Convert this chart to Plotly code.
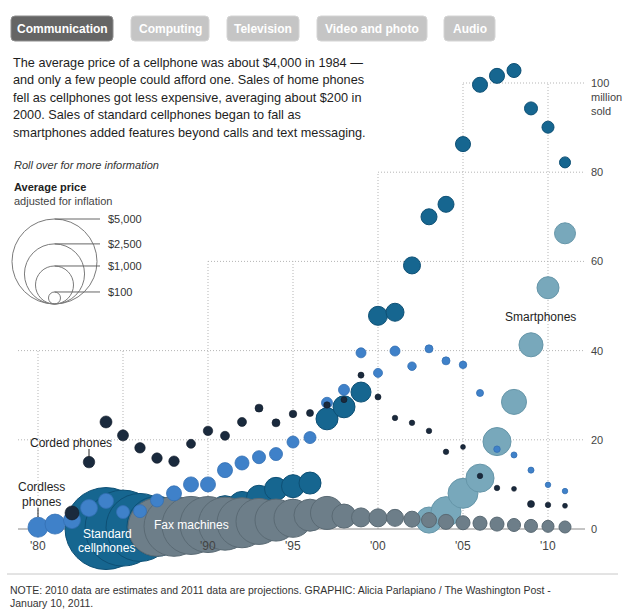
import plotly.graph_objects as go
import math

# ---------------- data (millions of units sold, average price in $) ----------------
corded_years = list(range(1982, 2012))
corded_units = [3.6, 15.0, 24.0, 21.0, 18.2, 15.9, 15.2, 19.1, 22.0, 20.9, 24.0, 27.1, 23.8, 25.8, 26.0,
                27.8, 29.0, 34.5, 29.6, 24.9, 23.8, 22.0, 17.3, 18.4, 11.9, 9.2, 9.0, 5.6, 5.4, 5.2]
corded_price = [136, 92, 100, 84, 76, 76, 76, 56, 62, 56, 56, 44, 44, 39, 34,
                29, 25, 25, 25, 21, 21, 21, 21, 17, 21, 21, 17, 34, 21, 17]

cordless_years = list(range(1980, 2012))
cordless_units = [0.4, 1.1, 2.0, 4.7, 6.3, 3.8, 4.0, 6.4, 8.0, 10.0, 10.0, 13.2, 14.8, 16.1, 16.8, 19.5,
                  20.5, 28.3, 31.2, 39.5, 35.0, 39.9, 36.5, 40.4, 37.7, 36.8, 30.5, 17.9, 16.6, 13.2, 9.9, 8.5]
cordless_price = [277, 277, 200, 200, 156, 117, 117, 117, 156, 156, 156, 156, 136, 117, 117, 100,
                  100, 84, 84, 69, 56, 69, 50, 44, 44, 39, 34, 29, 25, 25, 21, 21]

cell_years = list(range(1984, 2012))
cell_units = [0.1, 0.2, 0.35, 0.6, 1.0, 1.6, 2.8, 4.0, 5.4, 7.0, 9.0, 9.6, 10.3, 24.7,
              27.4, 30.7, 47.8, 48.6, 59.1, 70.0, 72.8, 86.3, 99.6, 101.6, 102.8, 94.3, 90.1, 82.2]
cell_price = [4650, 4000, 3200, 2490, 1870, 1340, 900, 665, 505, 433, 366, 366, 335, 335,
              335, 277, 250, 224, 200, 177, 177, 156, 156, 156, 136, 117, 100, 84]

fax_years = list(range(1987, 2012))
fax_units = [0.4, 0.6, 0.8, 1.0, 1.2, 1.4, 1.7, 2.0, 2.4, 3.1, 3.6, 2.9, 2.6, 2.5, 2.5,
             2.2, 2.0, 1.6, 1.4, 1.3, 1.1, 0.9, 0.7, 0.6, 0.45]
fax_price = [2330, 2490, 2330, 2170, 1945, 1730, 1465, 1220, 1000, 710, 755, 400, 250, 224, 200,
             177, 156, 156, 136, 136, 136, 117, 117, 100, 100]

smart_years = list(range(2003, 2012))
smart_units = [2.0, 3.9, 8.0, 11.4, 19.6, 28.5, 41.3, 54.1, 66.3]
smart_price = [470, 620, 620, 545, 545, 433, 400, 335, 305]

legend_prices = [5000, 2500, 1000, 100]
legend_labels = ["$5,000", "$2,500", "$1,000", "$100"]

y_ticks = [0, 20, 40, 60, 80, 100]
x_ticks = [1980, 1990, 1995, 2000, 2005, 2010]
x_tick_text = ["'80", "'90", "'95", "'00", "'05", "'10"]

buttons = ["Communication", "Computing", "Television", "Video and photo", "Audio"]

intro = ["The average price of a cellphone was about $4,000 in 1984 \u2014",
         "and only a few people could afford one. Sales of home phones",
         "fell as cellphones got less expensive, averaging about $200 in",
         "2000. Sales of standard cellphones began to fall as",
         "smartphones added features beyond calls and text messaging."]
note = ["NOTE: 2010 data are estimates and 2011 data are projections. GRAPHIC: Alicia Parlapiano / The Washington Post -",
        "January 10, 2011."]

# ---------------- layout helpers ----------------
W, H = 628, 615
FONT = "Arial, Liberation Sans, Helvetica, sans-serif"
MAXD, MAXP = 85.0, 5000.0


def diam(prices):
    return [MAXD * math.sqrt(p / MAXP) for p in prices]


def PX(x):
    return x / W


def PY(y):
    return 1 - y / H


X0 = 1980 - 38 / 17.0
X1 = 1980 + (W - 38) / 17.0
Y0 = -(H - 529) / 4.46
Y1 = 529 / 4.46
GX_LEFT = 1980 + (18 - 38) / 17.0
GX_RIGHT = 1980 + (585 - 38) / 17.0

fig = go.Figure()

series = [
    (smart_years, smart_units, smart_price, "#78a8bb", "#6696a9", 1.0, "Smartphones"),
    (cell_years, cell_units, cell_price, "#166690", "#0e5075", 1.0, "Standard cellphones"),
    (fax_years, fax_units, fax_price, "#6d7e89", "#5a6a74", 1.0, "Fax machines"),
    (cordless_years, cordless_units, cordless_price, "#3f81c9", "#3470b4", 0.8, "Cordless phones"),
    (corded_years, corded_units, corded_price, "#1a2a3d", "#101b2a", 0.6, "Corded phones"),
]
for xs, ys, ps, col, lc, lw, name in series:
    fig.add_trace(go.Scatter(
        x=xs, y=ys, mode="markers", name=name,
        marker=dict(size=diam(ps), sizemode="diameter", color=col, opacity=1,
                    line=dict(color=lc, width=lw)),
        cliponaxis=False, hoverinfo="x+y+name"))

shapes = []
grid = dict(color="#b5b5b5", width=1, dash="1px,2px")
vert_top = {1980: 40, 1985: 40, 1990: 60, 1995: 60, 2000: 80, 2005: 100, 2010: 100}
horiz_left = {20: GX_LEFT, 40: GX_LEFT, 60: 1990, 80: 2000, 100: 2005}
for yr, top in vert_top.items():
    shapes.append(dict(type="line", xref="x", yref="y", x0=yr, x1=yr, y0=0, y1=top, line=grid, layer="below"))
for v, xl in horiz_left.items():
    shapes.append(dict(type="line", xref="x", yref="y", x0=xl, x1=GX_RIGHT, y0=v, y1=v, line=grid, layer="below"))
shapes.append(dict(type="line", xref="x", yref="y", x0=GX_LEFT, x1=GX_RIGHT, y0=0, y1=0,
                   line=dict(color="#8a8a8a", width=1), layer="below"))


def rr(x0, y0, x1, y1, r):
    return (f"M{PX(x0+r)},{PY(y0)} L{PX(x1-r)},{PY(y0)} Q{PX(x1)},{PY(y0)} {PX(x1)},{PY(y0+r)} "
            f"L{PX(x1)},{PY(y1-r)} Q{PX(x1)},{PY(y1)} {PX(x1-r)},{PY(y1)} "
            f"L{PX(x0+r)},{PY(y1)} Q{PX(x0)},{PY(y1)} {PX(x0)},{PY(y1-r)} "
            f"L{PX(x0)},{PY(y0+r)} Q{PX(x0)},{PY(y0)} {PX(x0+r)},{PY(y0)} Z")


annotations = []
btn_boxes = [(11, 113), (131, 209), (227, 299), (317, 427), (444, 495)]
for i, (label, (bx0, bx1)) in enumerate(zip(buttons, btn_boxes)):
    active = i == 0
    shapes.append(dict(type="path", xref="paper", yref="paper", path=rr(bx0, 16, bx1, 41, 4),
                       fillcolor="#656565" if active else "#c5c5c5",
                       line=dict(color="#8e8e8e" if active else "#d4d4d4", width=1), layer="above"))
    annotations.append(dict(x=PX((bx0 + bx1) / 2), y=PY(28.5), xref="paper", yref="paper",
                            text=f"<b>{label}</b>", showarrow=False, xanchor="center", yanchor="middle",
                            font=dict(family=FONT, size=12, color="white")))

for i, line in enumerate(intro):
    annotations.append(dict(x=PX(11), y=PY(63 + i * 17.5), xref="paper", yref="paper", text=line,
                            showarrow=False, xanchor="left", yanchor="middle",
                            font=dict(family=FONT, size=12.7, color="#1e1e1e")))

annotations.append(dict(x=PX(12), y=PY(165), xref="paper", yref="paper", text="<i>Roll over for more information</i>",
                        showarrow=False, xanchor="left", yanchor="middle", font=dict(family=FONT, size=11, color="#333")))
annotations.append(dict(x=PX(12), y=PY(187), xref="paper", yref="paper", text="<b>Average price</b>",
                        showarrow=False, xanchor="left", yanchor="middle", font=dict(family=FONT, size=11, color="#222")))
annotations.append(dict(x=PX(12), y=PY(201), xref="paper", yref="paper", text="adjusted for inflation",
                        showarrow=False, xanchor="left", yanchor="middle", font=dict(family=FONT, size=11, color="#444")))

# size legend
CX, BOT = 54.5, 304
for p, lab in zip(legend_prices, legend_labels):
    d = MAXD * math.sqrt(p / MAXP)
    top = BOT - d
    shapes.append(dict(type="circle", xref="paper", yref="paper", x0=PX(CX - d / 2), x1=PX(CX + d / 2),
                       y0=PY(BOT), y1=PY(top), line=dict(color="#7a7a7a", width=1), layer="above"))
    shapes.append(dict(type="line", xref="paper", yref="paper", x0=PX(CX), x1=PX(100), y0=PY(top), y1=PY(top),
                       line=dict(color="#666", width=1), layer="above"))
    annotations.append(dict(x=PX(106), y=PY(top), xref="paper", yref="paper", text=lab, showarrow=False,
                            xanchor="left", yanchor="middle", font=dict(family=FONT, size=11, color="#333")))

# axis labels
for v in y_ticks:
    annotations.append(dict(x=GX_RIGHT, y=v, xref="x", yref="y", text=str(v), showarrow=False, xshift=4,
                            xanchor="left", yanchor="middle", font=dict(family=FONT, size=11, color="#444")))
annotations.append(dict(x=GX_RIGHT, y=100, xref="x", yref="y", text="million", showarrow=False, xshift=4, yshift=-14,
                        xanchor="left", yanchor="middle", font=dict(family=FONT, size=11, color="#444")))
annotations.append(dict(x=GX_RIGHT, y=100, xref="x", yref="y", text="sold", showarrow=False, xshift=4, yshift=-28,
                        xanchor="left", yanchor="middle", font=dict(family=FONT, size=11, color="#444")))
for xv, xt in zip(x_ticks, x_tick_text):
    annotations.append(dict(x=xv, y=0, xref="x", yref="y", text=xt, showarrow=False, yshift=-17,
                            xanchor="center", yanchor="middle", font=dict(family=FONT, size=12, color="#444")))

# series labels
def lab(x, y, t, color="#1e1e1e"):
    annotations.append(dict(x=PX(x), y=PY(y), xref="paper", yref="paper", text=t, showarrow=False,
                            xanchor="center", yanchor="middle", font=dict(family=FONT, size=12, color=color)))

lab(71, 443, "Corded phones")
lab(41, 487, "Cordless")
lab(41, 502, "phones")
lab(540, 317, "Smartphones")
lab(107, 534, "Standard", "white")
lab(106, 548, "cellphones", "white")
lab(191, 525, "Fax machines", "white")
shapes.append(dict(type="line", xref="paper", yref="paper", x0=PX(89), x1=PX(89), y0=PY(449), y1=PY(457),
                   line=dict(color="#222", width=1), layer="above"))
shapes.append(dict(type="line", xref="paper", yref="paper", x0=PX(38), x1=PX(38), y0=PY(508), y1=PY(517),
                   line=dict(color="#222", width=1), layer="above"))

# footer
shapes.append(dict(type="line", xref="paper", yref="paper", x0=PX(7), x1=PX(618), y0=PY(574), y1=PY(574),
                   line=dict(color="#c8c8c8", width=1), layer="above"))
for i, t in enumerate(note):
    annotations.append(dict(x=PX(8), y=PY(590 + i * 13), xref="paper", yref="paper", text=t, showarrow=False,
                            xanchor="left", yanchor="middle", font=dict(family=FONT, size=10.5, color="#333")))

fig.update_layout(
    width=W, height=H, margin=dict(l=0, r=0, t=0, b=0, pad=0),
    paper_bgcolor="white", plot_bgcolor="white", showlegend=False,
    xaxis=dict(range=[X0, X1], visible=False, fixedrange=True),
    yaxis=dict(range=[Y0, Y1], visible=False, fixedrange=True),
    shapes=shapes, annotations=annotations,
    font=dict(family=FONT),
)
fig.write_html("out.html", config={"displayModeBar": False})
